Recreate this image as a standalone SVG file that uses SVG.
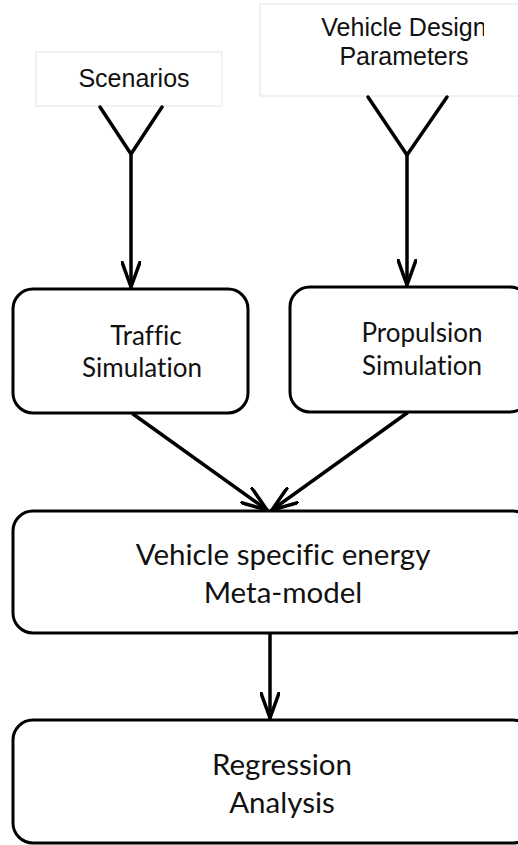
<svg xmlns="http://www.w3.org/2000/svg" width="518" height="845" viewBox="0 0 518 845">
<style>
.in{fill:#fff;stroke:#e4e4e4;stroke-width:1}
.box{fill:#fff;stroke:#000;stroke-width:3}
.ta{font-family:"Liberation Sans",Arial,sans-serif;font-size:25px;fill:#111;text-anchor:middle}
.tc{font-family:Lato,"Open Sans",sans-serif;fill:#111;text-anchor:middle;font-variant-ligatures:none}
.ln{fill:none;stroke:#000;stroke-width:3.5;stroke-linecap:round;stroke-linejoin:round}
</style>
<defs>
<marker id="ah" viewBox="0 0 30 20" refX="26" refY="10" markerWidth="30" markerHeight="20" markerUnits="userSpaceOnUse" orient="auto">
<path d="M1 1 L26 10 L1 19" fill="none" stroke="#000" stroke-width="3.5" stroke-linecap="round" stroke-linejoin="round"/>
</marker>
<clipPath id="cl"><rect x="0" y="0" width="484" height="845"/></clipPath>
</defs>
<rect width="518" height="845" fill="#fff"/>
<g id="scenarios">
<rect class="in" x="36" y="52" width="186" height="54"/>
<text class="ta" x="134" y="87">Scenarios</text>
</g>
<g id="vehicle-design-parameters">
<rect class="in" x="260" y="4" width="262" height="92"/>
<g clip-path="url(#cl)">
<text class="ta" x="404" y="36">Vehicle Design</text>
</g>
<text class="ta" x="404" y="65">Parameters</text>
</g>
<g id="traffic-simulation">
<rect class="box" x="13" y="289" width="235" height="124" rx="20"/>
<text class="tc" font-size="26" x="146" y="345">Traffic</text>
<text class="tc" font-size="26" x="142" y="377">Simulation</text>
</g>
<g id="propulsion-simulation">
<rect class="box" x="290" y="287" width="240" height="125" rx="20"/>
<text class="tc" font-size="26" x="422" y="342">Propulsion</text>
<text class="tc" font-size="26" x="422" y="375">Simulation</text>
</g>
<g id="meta-model">
<rect class="box" x="13" y="511" width="520" height="122" rx="20"/>
<text class="tc" font-size="29.5" x="283" y="565">Vehicle specific energy</text>
<text class="tc" font-size="29.5" x="283" y="603">Meta-model</text>
</g>
<g id="regression-analysis">
<rect class="box" x="13" y="720" width="520" height="123" rx="20"/>
<text class="tc" font-size="29.5" x="282" y="775">Regression</text>
<text class="tc" font-size="29.5" x="282" y="813">Analysis</text>
</g>
<g id="connectors">
<path class="ln" d="M100 107 L131 154 L162 107"/>
<path class="ln" d="M131 154 L131 287" marker-end="url(#ah)"/>
<path class="ln" d="M368 97 L407 155 L447 97"/>
<path class="ln" d="M407 155 L407 285" marker-end="url(#ah)"/>
<path class="ln" d="M133 414 L267 510" marker-end="url(#ah)"/>
<path class="ln" d="M407 413 L272 510" marker-end="url(#ah)"/>
<path class="ln" d="M270 634 L270 718" marker-end="url(#ah)"/>
</g>
</svg>
